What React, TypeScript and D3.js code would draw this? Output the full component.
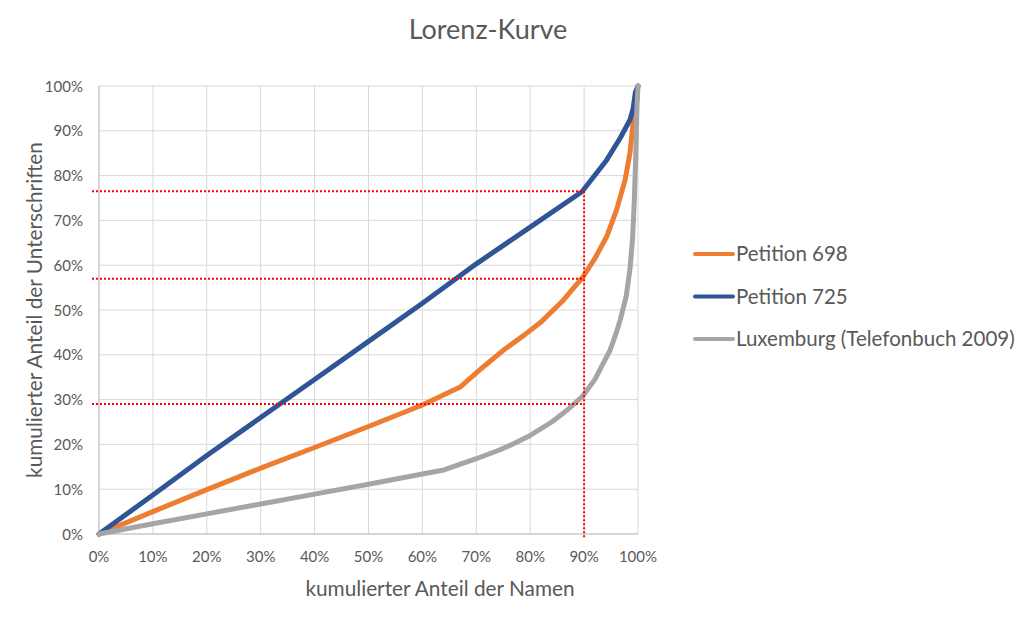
import React from "react";
import * as d3 from "d3";

const title = "Lorenz-Kurve";
const xTitle = "kumulierter Anteil der Namen";
const yTitle = "kumulierter Anteil der Unterschriften";
const tickValues = [0, 10, 20, 30, 40, 50, 60, 70, 80, 90, 100];

const seriesNames = ["Petition 698", "Petition 725", "Luxemburg (Telefonbuch 2009)"];
const seriesColors = ["#ED7D31", "#2F5597", "#A5A5A5"];

const petition698: [number, number][] = [
  [0, 0], [10, 5], [20, 9.9], [30, 14.7], [40, 19.3], [50, 24], [60, 28.8], [67, 32.8],
  [71, 37], [75, 41], [79, 44.5], [82, 47.3], [86, 52], [89.8, 57.4], [92, 61.5], [94.2, 66.4],
  [96, 72.3], [97.6, 79], [98.5, 85], [99.1, 91.7], [99.4, 96], [100, 100],
];
const petition725: [number, number][] = [
  [0, 0], [10, 8.7], [20, 17.5], [30, 26], [40, 34.5], [50, 43], [60, 51.5], [70, 60.3],
  [80, 68.5], [89.6, 76.4], [94.2, 83.5], [96.7, 88.4], [98.5, 92.4], [99.1, 95],
  [99.5, 98.5], [100, 100],
];
const luxemburg: [number, number][] = [
  [0, 0], [10, 2.3], [20, 4.5], [30, 6.7], [40, 8.9], [50, 11.1], [60, 13.4], [64, 14.3],
  [70, 16.8], [74.4, 18.8], [77, 20.2], [80, 22], [84, 25], [87, 27.8], [89.6, 30.6],
  [92, 34.5], [94.8, 41], [96, 45], [96.7, 47.8], [97.8, 53], [98.5, 59], [99, 66],
  [99.3, 74], [99.6, 85], [99.8, 95], [100, 100],
];
const seriesData = [petition698, petition725, luxemburg];

// reference lines (red dotted): horizontal levels and vertical x
const refLevels = [76.5, 57, 29];
const refX = 90;

const FONT = "Lato, 'Open Sans', sans-serif";
const TEXT = "#595959";

export default function App() {
  const left = 99, right = 638, top = 86, bottom = 534;
  const x = d3.scaleLinear().domain([0, 100]).range([left, right]);
  const y = d3.scaleLinear().domain([0, 100]).range([bottom, top]);
  const line = d3
    .line<[number, number]>()
    .x((d) => x(d[0]))
    .y((d) => y(d[1]))
    .curve(d3.curveLinear);

  const drawOrder = [0, 1, 2];

  return (
    <svg
      width={1024}
      height={619}
      style={{ position: "absolute", left: 0, top: 0, background: "#fff" }}
      fontFamily={FONT}
    >
      <rect width={1024} height={619} fill="#fff" />
      <text x={488} y={39} textAnchor="middle" fontSize={27} fill={TEXT}>
        {title}
      </text>
      {/* grid */}
      {tickValues.map((t) => (
        <line key={"gx" + t} x1={x(t)} x2={x(t)} y1={top} y2={bottom} stroke="#D9D9D9" strokeWidth={1} />
      ))}
      {tickValues.map((t) => (
        <line key={"gy" + t} x1={left} x2={right} y1={y(t)} y2={y(t)} stroke="#D9D9D9" strokeWidth={1} />
      ))}
      <line x1={left} x2={right} y1={bottom} y2={bottom} stroke="#BFBFBF" strokeWidth={1} />
      <line x1={left} x2={left} y1={top} y2={bottom} stroke="#BFBFBF" strokeWidth={1} />
      {/* tick labels */}
      {tickValues.map((t) => (
        <text key={"ty" + t} x={83} y={y(t) + 5.5} textAnchor="end" fontSize={15} fill={TEXT}>
          {t}%
        </text>
      ))}
      {tickValues.map((t) => (
        <text key={"tx" + t} x={x(t)} y={562} textAnchor="middle" fontSize={15} fill={TEXT}>
          {t}%
        </text>
      ))}
      {/* axis titles */}
      <text x={440} y={596} textAnchor="middle" fontSize={20.8} fill={TEXT}>
        {xTitle}
      </text>
      <text
        transform={`translate(42, ${(top + bottom) / 2}) rotate(-90)`}
        textAnchor="middle"
        fontSize={20.8}
        fill={TEXT}
      >
        {yTitle}
      </text>
      {/* series */}
      {drawOrder.map((i) => (
        <path
          key={"s" + i}
          d={line(seriesData[i]) || ""}
          fill="none"
          stroke={seriesColors[i]}
          strokeWidth={5}
          strokeLinejoin="round"
          strokeLinecap="round"
        />
      ))}
      {/* red dotted reference lines */}
      {refLevels.map((v) => (
        <line
          key={"r" + v}
          x1={left - 7}
          x2={x(refX)}
          y1={y(v)}
          y2={y(v)}
          stroke="#FF0000"
          strokeWidth={2}
          strokeDasharray="2 2"
        />
      ))}
      <line
        x1={x(refX)}
        x2={x(refX)}
        y1={y(refLevels[0])}
        y2={bottom + 5}
        stroke="#FF0000"
        strokeWidth={2}
        strokeDasharray="2 2"
      />
      {/* legend */}
      {seriesNames.map((n, i) => (
        <g key={"l" + i} transform={`translate(695, ${254 + i * 42.5})`}>
          <line x1={0} x2={38} y1={0} y2={0} stroke={seriesColors[i]} strokeWidth={4} strokeLinecap="round" />
          <text x={41} y={7} fontSize={20.5} fill={TEXT}>
            {n}
          </text>
        </g>
      ))}
    </svg>
  );
}
